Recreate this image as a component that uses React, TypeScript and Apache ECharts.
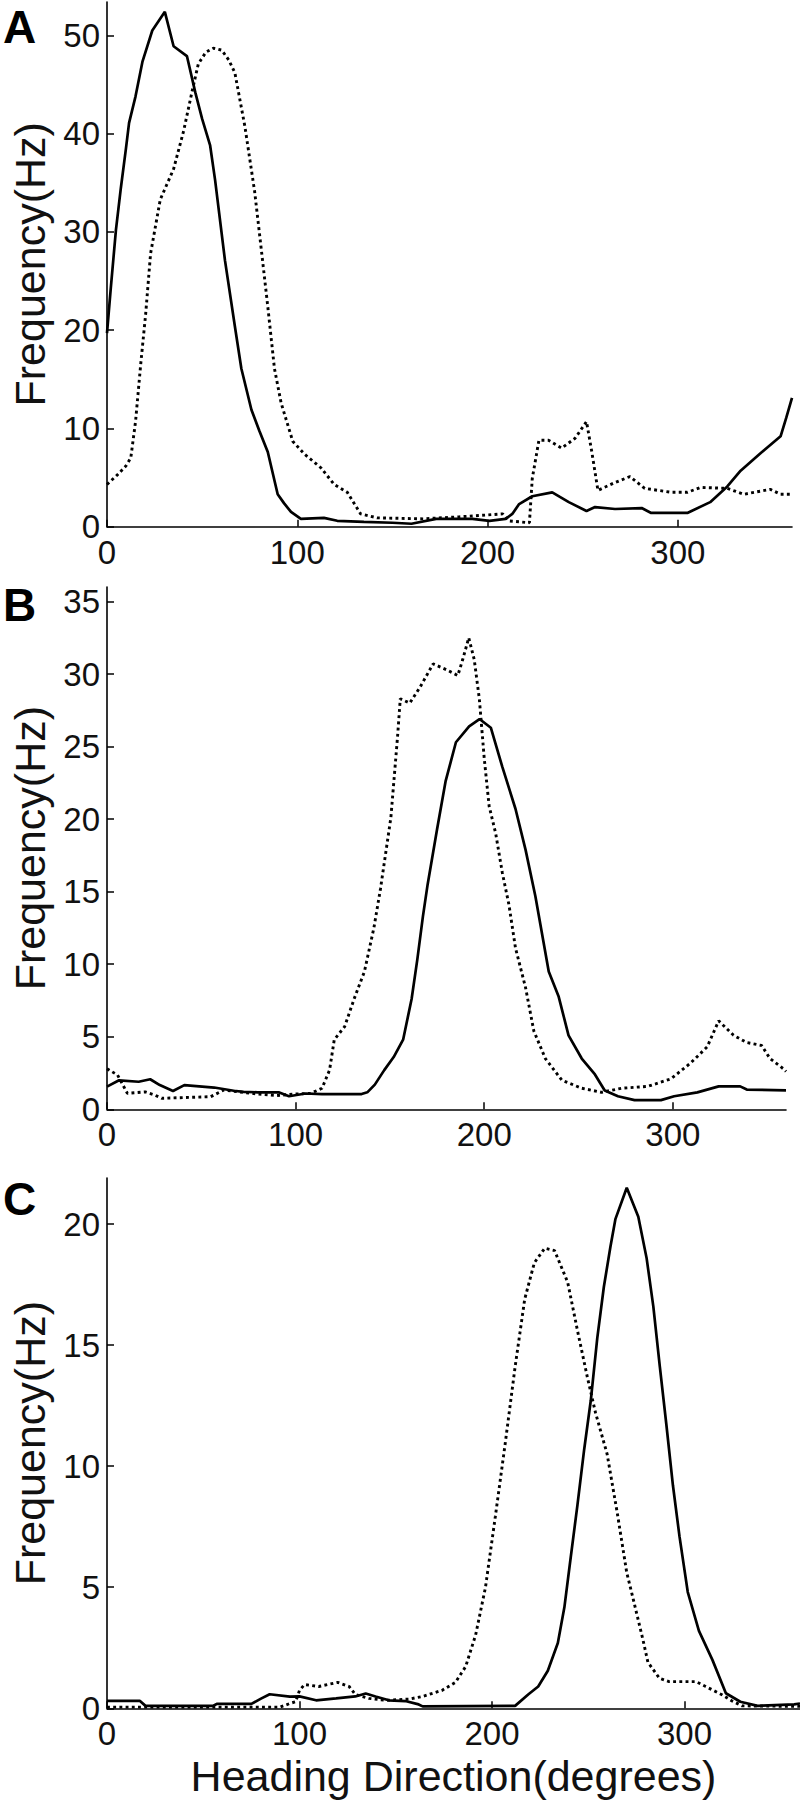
import React, { useEffect, useRef } from "react";
import * as echarts from "echarts";

// ---------- data: [heading (deg), frequency (Hz)] ----------
const aSolid: [number, number][] = [
  [0, 19.7], [2, 24.3], [4.7, 30.2], [7.3, 34.5], [9.9, 38.4], [11.6, 41.1], [15, 43.8], [18.6, 47.3],
  [23.8, 50.5], [30.4, 52.4], [35, 48.9], [42, 47.9], [46.4, 44.2], [50, 41.5], [54.2, 38.8], [56.8, 35.3],
  [62, 27.1], [67.2, 20.4], [70.6, 16.1], [75.9, 11.9], [80, 9.8], [84.5, 7.6], [89.7, 3.3], [93, 2.4],
  [96.7, 1.5], [101.9, 0.8], [114, 0.9], [121, 0.6], [135, 0.5], [150, 0.4], [160, 0.3], [173, 0.8],
  [192, 0.8], [201, 0.6], [209.5, 0.8], [213, 1.3], [216.6, 2.3], [223.5, 3.1], [234, 3.5], [242.7, 2.5],
  [252, 1.6], [256.5, 2.0], [267, 1.8], [281, 1.9], [286, 1.4], [305, 1.4], [317, 2.5], [326, 4.1],
  [333, 5.7], [343, 7.4], [354, 9.2], [357, 11.1], [360, 13.1],
];
const aDotted: [number, number][] = [
  [0, 4.3], [5.6, 5.3], [10, 6.2], [12.5, 7.0], [15, 10.7], [17.7, 16.5], [20.3, 21.6], [22.9, 27.8],
  [28, 33.3], [35, 36.4], [40.3, 40.3], [44.6, 44.2], [48, 47.1], [52, 48.3], [55.9, 48.7], [60.3, 48.5],
  [64, 47.5], [67.2, 46.2], [72.5, 40.7], [77.6, 34.1], [81.1, 28.2], [84.5, 22.4], [88, 16.1], [91.5, 12.6],
  [97.6, 8.7], [103.7, 7.4], [112.4, 6.0], [119.4, 4.3], [126.3, 3.5], [133.3, 1.3], [142, 0.9], [166, 0.8],
  [185, 1.0], [200, 1.2], [208, 1.3], [211, 0.6], [222, 0.4], [223.5, 4.9], [227, 8.8], [232, 8.8],
  [239, 8.0], [246, 9.0], [252, 10.7], [254.8, 7.6], [258, 3.7], [267, 4.5], [274.8, 5.1], [282.6, 3.9],
  [296.5, 3.5], [305, 3.5], [312, 4.0], [326, 3.9], [334.7, 3.3], [348.6, 3.8], [354, 3.3], [360, 3.3],
];
const bSolid: [number, number][] = [
  [0, 1.56], [6.4, 2.0], [16.8, 1.9], [22.9, 2.07], [28, 1.67], [35, 1.26], [41, 1.67], [56.8, 1.5],
  [67.2, 1.28], [72.4, 1.2], [80, 1.17], [91, 1.17], [96.5, 0.9], [105.3, 1.09], [114, 1.05], [135, 1.05],
  [138, 1.17], [142, 1.7], [147, 2.7], [152, 3.6], [157, 4.8], [161.5, 7.6], [164.5, 10.3], [167.5, 13.3],
  [170, 15.5], [175, 19.3], [179.5, 22.6], [185, 25.3], [192, 26.4], [197.5, 26.9], [203.5, 26.3],
  [209.6, 23.6], [216.6, 20.7], [221.9, 17.9], [227.1, 14.7], [234.2, 9.5], [239.4, 7.8], [244.7, 5.1],
  [251.7, 3.5], [258.7, 2.4], [263.9, 1.3], [270.9, 0.9], [279.7, 0.63], [293.7, 0.63], [300.7, 0.9],
  [313, 1.17], [324.3, 1.58], [335.7, 1.58], [339.2, 1.36], [360, 1.3],
];
const bDotted: [number, number][] = [
  [0, 2.8], [5.6, 2.36], [10.8, 1.1], [20.3, 1.2], [25, 1.0], [29, 0.76], [55, 0.87], [62, 1.33],
  [72, 1.17], [80, 1.05], [90, 0.95], [100, 1.05], [108, 1.1], [114, 1.45], [118, 2.7], [120.5, 4.8],
  [126, 5.7], [131, 7.6], [136.5, 9.5], [141.5, 12.5], [145, 15.2], [150.5, 20.1], [154, 25.6], [155.5, 28.3],
  [160.5, 28.0], [166, 29.1], [172.9, 30.7], [179.9, 30.3], [186, 29.9], [188.6, 31.0], [191.8, 32.5],
  [194.7, 31.0], [197.4, 28.3], [200, 24.2], [202.6, 20.9], [206.1, 19.0], [209.6, 16.3], [213.1, 14.1],
  [216.6, 11.1], [221.9, 8.4], [226.3, 5.4], [232.4, 3.5], [241.2, 2.0], [251.7, 1.45], [262.2, 1.17],
  [272.7, 1.45], [286.7, 1.58], [299, 2.1], [309.5, 3.2], [318.2, 4.3], [324.3, 6.1], [332.2, 5.1],
  [339.2, 4.6], [347.1, 4.4], [351.5, 3.5], [358.5, 2.8], [360, 2.6],
];
const cSolid: [number, number][] = [
  [0, 0.31], [17, 0.31], [20, 0.1], [55, 0.1], [57, 0.18], [75, 0.18], [80, 0.4], [84.5, 0.58],
  [95, 0.48], [100, 0.49], [108.6, 0.33], [119, 0.41], [129, 0.49], [134.4, 0.61], [139.5, 0.49],
  [146.4, 0.33], [155, 0.3], [161.9, 0.16], [164, 0.08], [212, 0.1], [218.8, 0.57], [224, 0.9],
  [229, 1.55], [234.2, 2.7], [237.6, 4.17], [241, 6.3], [244.4, 8.4], [247.9, 10.7], [251.3, 12.7],
  [254.7, 15.3], [258.1, 17.4], [261.5, 19.05], [264.1, 20.2], [270, 21.5], [276, 20.3], [280.3, 18.6],
  [283.8, 16.6], [287.2, 14.1], [290.6, 11.7], [294, 9.2], [297.4, 7.1], [301.7, 4.8], [307.5, 3.2],
  [314.5, 2.0], [321.5, 0.62], [329, 0.27], [338, 0.1], [357, 0.16], [360, 0.2],
];
const cDotted: [number, number][] = [
  [0, 0.05], [90, 0.05], [95, 0.2], [98, 0.27], [100, 0.74], [102.6, 0.98], [110, 0.9], [119.8, 1.07],
  [125.8, 0.9], [129, 0.57], [136, 0.41], [144.7, 0.33], [157, 0.38], [164, 0.49], [174, 0.74],
  [181, 1.07], [186.3, 1.72], [191.5, 3.03], [196.6, 4.99], [201.7, 7.9], [206.8, 10.9], [212, 14.1],
  [217, 16.9], [222, 18.4], [227.4, 19.0], [232.5, 18.9], [239.3, 17.6], [244.4, 15.6], [249.6, 13.65],
  [253.8, 12.2], [259.8, 10.5], [265, 8.1], [270, 5.6], [273.4, 4.5], [278.5, 2.8], [281, 1.9],
  [287, 1.24], [292, 1.1], [306, 1.1], [311, 0.9], [319.7, 0.55], [324.7, 0.3], [330, 0.1], [360, 0.08],
];

const xTicks = [0, 100, 200, 300];
const yTicksA = [0, 10, 20, 30, 40, 50];
const yTicksB = [0, 5, 10, 15, 20, 25, 30, 35];
const yTicksC = [0, 5, 10, 15, 20];
const yMax = [53.4, 36, 21.9];
const panelLetters = ["A", "B", "C"];
const yTitle = "Frequency(Hz)";
const xTitle = "Heading Direction(degrees)";

const FONT = '"Liberation Sans", Arial, sans-serif';

export default function App() {
  const ref = useRef<HTMLDivElement>(null);

  useEffect(() => {
    if (!ref.current) return;
    const chart = echarts.init(ref.current, undefined, { renderer: "svg" });

    const grids = [
      { left: 101, top: 2, width: 691, height: 524.7 },
      { left: 101, top: 587, width: 685, height: 522.3 },
      { left: 102.7, top: 1178, width: 698.7, height: 530.3 },
    ];
    const yTicks = [yTicksA, yTicksB, yTicksC];

    const axisLine = { show: true, lineStyle: { color: "#000", width: 1.6 } };

    const xAxes = grids.map((_, i) => ({
      type: "value",
      gridIndex: i,
      min: 0,
      max: 360,
      interval: 100,
      axisLine,
      axisTick: { show: true, inside: true, length: 7, customValues: xTicks, lineStyle: { color: "#000", width: 1.5 } },
      axisLabel: { customValues: xTicks, margin: 9, fontSize: 33, color: "#111", fontFamily: FONT },
      splitLine: { show: false },
      name: i === 2 ? xTitle : "",
      nameLocation: "middle",
      nameGap: 46,
      nameTextStyle: { fontSize: 43, color: "#111", fontFamily: FONT },
    }));

    const yAxes = grids.map((_, i) => ({
      type: "value",
      gridIndex: i,
      min: 0,
      max: yMax[i],
      axisLine,
      axisTick: { show: true, inside: true, length: 7, customValues: yTicks[i], lineStyle: { color: "#000", width: 1.5 } },
      axisLabel: { customValues: yTicks[i], margin: 7, fontSize: 33, color: "#111", fontFamily: FONT },
      splitLine: { show: false },
      name: yTitle,
      nameLocation: "middle",
      nameGap: 56,
      nameTextStyle: { fontSize: 43, color: "#111", fontFamily: FONT },
    }));

    const solid = (data: [number, number][], i: number) => ({
      type: "line",
      xAxisIndex: i,
      yAxisIndex: i,
      data,
      showSymbol: false,
      symbol: "none",
      lineStyle: { color: "#000", width: 2.7 },
      silent: true,
    });
    const dotted = (data: [number, number][], i: number) => ({
      type: "line",
      xAxisIndex: i,
      yAxisIndex: i,
      data,
      showSymbol: false,
      symbol: "none",
      lineStyle: { color: "#000", width: 2.9, type: [2.9, 3.3] },
      silent: true,
    });

    const letterTops = [4, 582, 1176];

    chart.setOption({
      animation: false,
      backgroundColor: "#fff",
      grid: grids.map((g) => ({ ...g, containLabel: false })),
      xAxis: xAxes,
      yAxis: yAxes,
      series: [
        dotted(aDotted, 0),
        solid(aSolid, 0),
        dotted(bDotted, 1),
        solid(bSolid, 1),
        dotted(cDotted, 2),
        solid(cSolid, 2),
      ],
      graphic: panelLetters.map((t, i) => ({
        type: "text",
        left: 3,
        top: letterTops[i],
        style: {
          text: t,
          fill: "#000",
          font: `bold 46px ${FONT}`,
        },
      })),
    });

    return () => chart.dispose();
  }, []);

  return (
    <div
      ref={ref}
      style={{ position: "absolute", left: 0, top: 0, width: 800, height: 1800, background: "#fff" }}
    />
  );
}
